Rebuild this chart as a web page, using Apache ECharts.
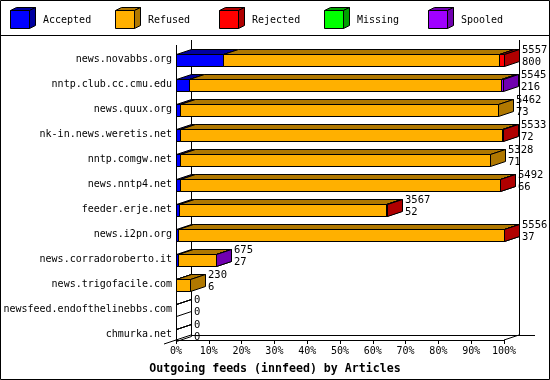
<!DOCTYPE html>
<html><head><meta charset="utf-8">
<script src="https://cdn.jsdelivr.net/npm/echarts@6/dist/echarts.min.js"></script>
<style>html,body{margin:0;padding:0;background:#fff}#c{width:550px;height:380px}</style>
</head><body><div id="c"></div>
<script>
const hosts = ['news.novabbs.org','nntp.club.cc.cmu.edu','news.quux.org','nk-in.news.weretis.net','nntp.comgw.net','news.nntp4.net','feeder.erje.net','news.i2pn.org','news.corradoroberto.it','news.trigofacile.com','newsfeed.endofthelinebbs.com','chmurka.net'];
const accepted = [800, 216, 73, 72, 71, 66, 52, 37, 27, 6, 0, 0];
const refused  = [4677, 5295, 5389, 5453, 5257, 5421, 3511, 5513, 645, 224, 0, 0];
const rejected = [80, 0, 0, 8, 0, 5, 4, 6, 0, 0, 0, 0];
const missing  = [0, 0, 0, 0, 0, 0, 0, 0, 0, 0, 0, 0];
const spooled  = [0, 34, 0, 0, 0, 0, 0, 0, 3, 0, 0, 0];
const statusNames = ['Accepted','Refused','Rejected','Missing','Spooled'];
const xTickLabels = ['0%','10%','20%','30%','40%','50%','60%','70%','80%','90%','100%'];

const frontColors = ['#0000ff','#ffb000','#ff0000','#00ff00','#a000ff'];
const darkColors  = ['#0000a0','#b07800','#b00000','#00a000','#7000b0'];
const MONO = 'DejaVu Sans Mono';
const DX = 15, DY = 5, HALF = 6;

const seriesValues = [accepted, refused, rejected, missing, spooled];
const totals = hosts.map((h, i) => seriesValues.reduce((s, arr) => s + arr[i], 0));
const maxTotal = Math.max(...totals);
const pct = v => v / maxTotal * 100;

const snap = v => Math.round(v) + 0.5;

function makeRender(s) {
  return function (params, api) {
    const i = api.value(2);
    const raw = api.value(3);
    const empty = totals[i] === 0;
    if (raw === 0 && !(empty && s === 0)) return null;
    const p0 = api.coord([api.value(0), i]);
    const p1 = api.coord([api.value(1), i]);
    const x0 = snap(p0[0]), x1 = snap(p1[0]);
    const c = Math.round(p0[1]) + 0.5;
    const yt = c - HALF, yb = c + HALF;
    const st = { stroke: '#000', lineWidth: 1 };
    const dark = empty ? null : darkColors[s];
    return {
      type: 'group',
      children: [
        { type: 'polygon', shape: { points: [[x0, yt], [x1, yt], [x1, yb], [x0, yb]] },
          style: Object.assign({ fill: empty ? null : frontColors[s] }, st) },
        { type: 'polygon', shape: { points: [[x0, yt], [x0 + DX, yt - DY], [x1 + DX, yt - DY], [x1, yt]] },
          style: Object.assign({ fill: dark }, st) },
        { type: 'polygon', shape: { points: [[x1, yt], [x1 + DX, yt - DY], [x1 + DX, yb - DY], [x1, yb]] },
          style: Object.assign({ fill: dark }, st) }
      ]
    };
  };
}

const series = statusNames.map((name, s) => {
  const data = hosts.map((h, i) => {
    let start = 0;
    for (let k = 0; k < s; k++) start += seriesValues[k][i];
    return [pct(start), pct(start + seriesValues[s][i]), i, seriesValues[s][i]];
  });
  return {
    type: 'custom', name: name, renderItem: makeRender(s),
    encode: { x: [0, 1], y: 2 }, data: data, clip: false
  };
});

series.push({
  type: 'custom', name: 'labels', clip: false,
  encode: { x: 0, y: 1 },
  data: hosts.map((h, i) => [pct(totals[i]), i]),
  renderItem: function (params, api) {
    const i = api.value(1);
    const p = api.coord([api.value(0), i]);
    return {
      type: 'text',
      style: {
        text: totals[i] + '\n' + accepted[i],
        x: Math.round(p[0]) + 18, y: Math.round(p[1]) - 15,
        font: '10.5px "' + MONO + '"', fill: '#000', lineHeight: 11.5,
        verticalAlign: 'top', align: 'left'
      }
    };
  }
});

// legend graphics
const legendGraphics = [];
statusNames.forEach((name, s) => {
  const lx = 10 + s * 104.5;
  const L = Math.round(lx) + 0.5;
  legendGraphics.push(
    { type: 'polygon', shape: { points: [[L, 10.5], [L + 6, 7.5], [L + 25, 7.5], [L + 19, 10.5]] },
      style: { fill: darkColors[s], stroke: '#000', lineWidth: 1 } },
    { type: 'polygon', shape: { points: [[L + 19, 10.5], [L + 25, 7.5], [L + 25, 25.5], [L + 19, 28.5]] },
      style: { fill: darkColors[s], stroke: '#000', lineWidth: 1 } },
    { type: 'rect', shape: { x: L, y: 10.5, width: 19, height: 18 },
      style: { fill: frontColors[s], stroke: '#000', lineWidth: 1 } },
    { type: 'text', x: Math.round(lx) + 33, y: 20,
      style: { text: name, font: '10px "' + MONO + '"', fill: '#000', verticalAlign: 'middle' } }
  );
});

const line = (x1, y1, x2, y2) => ({ type: 'line', shape: { x1, y1, x2, y2 }, style: { stroke: '#000', lineWidth: 1 }, z: 1 });

const chart = echarts.init(document.getElementById('c'));
chart.setOption({
  animation: false,
  backgroundColor: '#fff',
  title: {
    text: 'Outgoing feeds (innfeed) by Articles', left: 'center', top: 358,
    textStyle: { fontFamily: MONO, fontSize: 11.6, fontWeight: 'bold', color: '#000' }
  },
  grid: { left: 176, width: 328, top: 47, height: 300 },
  xAxis: {
    type: 'value', min: 0, max: 100, interval: 10, offset: -7,
    axisLine: { show: true, lineStyle: { color: '#000', width: 1 } },
    axisTick: { show: true, length: 4, lineStyle: { color: '#000' } },
    splitLine: { show: false },
    axisLabel: { margin: 6, color: '#000', fontFamily: MONO, fontSize: 10,
      formatter: (v) => xTickLabels[Math.round(v / 10)] }
  },
  yAxis: {
    type: 'category', data: hosts, inverse: true,
    axisLine: { show: false }, axisTick: { show: false }, splitLine: { show: false },
    axisLabel: { margin: 4, color: '#000', fontFamily: MONO, fontSize: 10 }
  },
  graphic: [
    { type: 'rect', shape: { x: 0.5, y: 0.5, width: 549, height: 379 }, style: { fill: null, stroke: '#000', lineWidth: 1 } },
    line(0, 35.5, 550, 35.5),
    line(176.5, 45, 176.5, 340),
    line(191.5, 40, 191.5, 335),
    line(519.5, 40, 519.5, 335),
    line(191, 335.5, 535, 335.5),
    line(164, 344, 191, 335),
    line(504, 340, 519, 335)
  ].concat(legendGraphics),
  series: series
});
</script>
</body></html>
